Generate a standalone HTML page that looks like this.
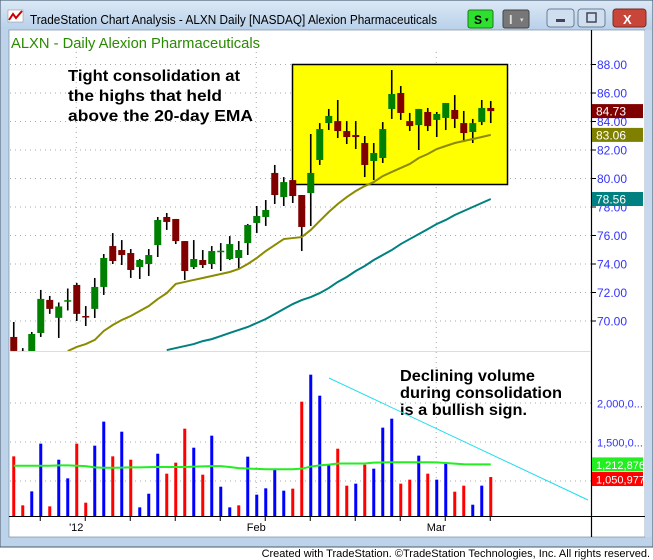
<!DOCTYPE html>
<html><head><meta charset="utf-8">
<style>
html,body{margin:0;padding:0;background:#fff;}
body{width:653px;height:560px;position:relative;overflow:hidden;font-family:"Liberation Sans",sans-serif;}
svg{position:absolute;left:0;top:0;}
</style></head>
<body>
<svg id="chart" width="653" height="560" viewBox="0 0 653 560" xmlns="http://www.w3.org/2000/svg">
  <defs>
    <linearGradient id="tb" x1="0" y1="0" x2="0" y2="1">
      <stop offset="0" stop-color="#dbe8f5"/><stop offset="1" stop-color="#b9d1ea"/>
    </linearGradient>
  </defs>
  <rect x="0" y="0" width="653" height="547" fill="#bcd3ea" stroke="#4a5a6a"/>
  <rect x="1" y="1" width="651" height="28" fill="url(#tb)"/>
  <g>
    <rect x="8" y="10" width="15" height="12" fill="#fff" stroke="#888" stroke-width="0.5"/>
    <polyline points="9,20 13,14 16,18 22,11" fill="none" stroke="#c00" stroke-width="2"/>
  </g>
  <text x="30" y="24" font-size="12.5" textLength="407" lengthAdjust="spacingAndGlyphs" fill="#000">TradeStation Chart Analysis - ALXN Daily [NASDAQ] Alexion Pharmaceuticals</text>
  <g>
    <rect x="468" y="10" width="25" height="18" rx="2" fill="#2ee02e" stroke="#1a7a1a"/>
    <text x="474" y="24" font-size="12" font-weight="bold" fill="#000">S</text>
    <text x="485" y="22" font-size="7" fill="#000">▾</text>
  </g>
  <g>
    <rect x="503" y="10" width="26" height="18" rx="2" fill="#777" stroke="#444"/>
    <text x="509" y="24" font-size="13" font-weight="bold" fill="#ddd">I</text>
    <text x="520" y="22" font-size="7" fill="#ddd">▾</text>
  </g>
  <g>
    <rect x="547" y="9" width="27" height="18" rx="3" fill="#cfdff0" stroke="#6a7f96"/>
    <rect x="556" y="19" width="9" height="3" fill="#445"/>
  </g>
  <g>
    <rect x="578" y="9" width="27" height="18" rx="3" fill="#cfdff0" stroke="#6a7f96"/>
    <rect x="587" y="13" width="9" height="9" fill="none" stroke="#445" stroke-width="1.5"/>
  </g>
  <g>
    <rect x="613" y="9" width="33" height="18" rx="3" fill="#c8453a" stroke="#7a2a22"/>
    <text x="623" y="24" font-size="13" font-weight="bold" fill="#fff">X</text>
  </g>
  <rect x="9" y="30" width="636" height="507" fill="#fff" stroke="#6a7f96" stroke-width="0.6"/>
  <rect x="645" y="30" width="7" height="507" fill="#c5d8ee"/>
  <text x="11" y="48" font-size="15" textLength="249" lengthAdjust="spacingAndGlyphs" fill="#2a8a00">ALXN - Daily  Alexion Pharmaceuticals</text>
  <g id="grid"></g>
  <rect x="292.5" y="64.5" width="215" height="120" fill="#ffff00" stroke="#000" stroke-width="1.5"/>
  <g id="marks"></g>
  <line x1="591.5" y1="30" x2="591.5" y2="537" stroke="#000" stroke-width="1.2"/>
  <line x1="9" y1="516.5" x2="645" y2="516.5" stroke="#000" stroke-width="1"/>
  <line x1="9" y1="351.5" x2="591" y2="351.5" stroke="#ddd" stroke-width="1"/>
  <g id="axes"></g>
  <g font-weight="bold" font-size="16" fill="#000">
    <text x="68" y="81" textLength="172" lengthAdjust="spacingAndGlyphs">Tight consolidation at</text>
    <text x="68" y="101" textLength="154" lengthAdjust="spacingAndGlyphs">the highs that held</text>
    <text x="68" y="121" textLength="185" lengthAdjust="spacingAndGlyphs">above the 20-day EMA</text>
  </g>
  <g font-weight="bold" font-size="16" fill="#000">
    <text x="400" y="381" textLength="135" lengthAdjust="spacingAndGlyphs">Declining volume</text>
    <text x="400" y="398" textLength="162" lengthAdjust="spacingAndGlyphs">during consolidation</text>
    <text x="400" y="415" textLength="127" lengthAdjust="spacingAndGlyphs">is a bullish sign.</text>
  </g>
  <line x1="329" y1="378" x2="588" y2="500" stroke="#22ddee" stroke-width="1"/>
  <text x="650" y="557" font-size="11" text-anchor="end" fill="#000">Created with TradeStation. ©TradeStation Technologies, Inc. All rights reserved.</text>
</svg>
<script>
const opens=[68.88,67.9,67.7,69.16,71.48,70.22,71.42,72.53,70.35,70.85,72.39,75.26,74.98,74.77,73.79,74.00,75.33,77.30,77.16,75.61,73.79,74.28,74.00,74.91,74.35,74.42,75.47,76.88,77.30,80.39,78.70,79.89,78.84,78.98,81.30,83.89,84.03,83.33,83.05,82.49,81.23,81.44,84.88,86.00,84.03,83.75,84.67,84.11,84.25,84.81,83.89,83.26,83.96,84.95];
const highs=[69.93,68.1,69.23,72.18,71.76,71.30,72.28,72.67,71.05,73.02,74.70,76.17,75.68,75.05,74.35,75.05,77.30,77.58,77.16,75.61,75.68,74.98,75.26,75.47,75.96,75.61,76.81,78.07,78.49,80.95,80.10,79.89,78.84,83.12,83.89,84.88,85.51,84.03,84.03,82.98,82.49,83.96,87.61,86.49,84.60,84.88,84.95,84.67,85.30,85.86,84.74,84.18,85.51,85.44];
const lows=[67.7,67.3,67.5,68.88,70.50,68.81,70.74,70.00,69.65,70.21,71.83,74.00,73.93,73.02,72.95,73.16,74.49,76.39,75.40,72.88,73.65,73.72,73.65,73.51,74.28,73.65,74.63,76.17,76.67,78.21,78.07,78.28,74.91,76.67,80.95,83.40,82.84,82.42,82.07,80.10,79.89,81.09,84.18,84.11,83.33,82.00,83.33,82.91,83.40,83.54,82.56,82.49,83.75,83.89];
const closes=[67.9,67.6,69.09,71.55,70.85,71.02,71.46,70.50,70.28,72.39,74.42,74.21,74.63,73.58,74.28,74.63,77.09,76.95,75.61,73.51,74.35,73.93,74.91,74.93,75.40,74.98,76.74,77.37,77.79,78.84,79.75,78.77,76.60,80.39,83.47,84.39,83.33,82.91,82.91,80.95,81.79,83.47,85.93,84.60,83.68,84.88,83.68,84.53,85.30,84.18,83.19,83.89,84.95,84.73];
const ema20=[null,null,null,null,null,null,67.89,68.18,68.38,68.67,69.30,69.72,70.07,70.35,70.70,71.05,71.54,71.96,72.60,72.74,72.88,73.02,73.16,73.30,73.44,73.65,74.00,74.42,74.91,75.33,75.75,75.82,75.89,76.39,77.02,77.65,78.21,78.70,79.12,79.47,79.75,80.17,80.46,80.74,81.02,81.44,81.72,82.07,82.28,82.49,82.63,82.77,82.91,83.06];
const ema50=[null,null,null,null,null,null,null,null,null,null,null,null,null,null,null,null,null,67.96,68.10,68.24,68.38,68.59,68.73,68.94,69.16,69.37,69.58,69.86,70.14,70.49,70.84,71.19,71.47,71.68,71.96,72.31,72.74,73.09,73.51,73.86,74.28,74.63,74.98,75.40,75.75,76.10,76.45,76.81,77.09,77.44,77.72,78.00,78.28,78.56];
const volumes=[1316,688,867,1479,675,1273,1034,1479,722,1453,1761,1316,1632,1273,662,837,1350,1094,1235,1671,1427,1081,1581,927,662,688,1312,825,906,1145,876,902,2017,2363,2094,1209,1414,940,966,1209,1158,1684,1799,966,1017,1325,1094,1017,1235,863,940,696,940,1051];
const volUp=[0,0,1,1,0,1,1,0,0,1,1,0,1,0,1,1,1,0,0,0,1,0,1,1,1,0,1,1,1,1,1,0,0,1,1,1,0,0,1,0,1,1,1,0,0,1,0,1,1,0,0,1,1,0];
const avgVol=[1196,1196,1196,1196,1196,1200,1200,1196,1190,1175,1170,1170,1172,1175,1175,1178,1180,1180,1180,1180,1185,1188,1190,1190,1180,1165,1160,1155,1150,1150,1150,1150,1158,1185,1200,1210,1225,1225,1225,1225,1235,1238,1240,1240,1240,1240,1240,1238,1230,1222,1215,1213,1213,1213];
const priceTicks=[70,72,74,76,78,80,82,84,86,88];
const volTicks=[2000,1500];
const volTickLabels=["2,000,0...","1,500,0..."];
const timeLabels=["'12","Feb","Mar"];
const timeLabelIdx=[7,27,47];
const lastPrice="84.73", lastEma20="83.06", lastEma50="78.56", lastAvgVol="1,212,876", lastVol="1,050,977";

const NS="http://www.w3.org/2000/svg";
const xAt=i=>13.75+9*i;
const yP=p=>64.5+(88-p)*14.25;
const yV=v=>403+(2000-v)/500*39;
function mk(tag,attrs,parent){const e=document.createElementNS(NS,tag);for(const k in attrs)e.setAttribute(k,attrs[k]);parent.appendChild(e);return e;}
const grid=document.getElementById('grid'),marks=document.getElementById('marks'),axes=document.getElementById('axes');

const defs=document.querySelector('defs');
const cp=mk('clipPath',{id:'pclip'},defs);mk('rect',{x:9,y:52,width:582,height:299},cp);
const cv=mk('clipPath',{id:'vclip'},defs);mk('rect',{x:9,y:352,width:582,height:164},cv);

priceTicks.forEach(p=>{
  const l=mk('line',{x1:10,x2:591,y1:yP(p),y2:yP(p),stroke:'#aaa','stroke-dasharray':'1,4'},grid);
  
  
  const t=mk('line',{x1:591,x2:596,y1:yP(p),y2:yP(p),stroke:'#000'},axes);
  
  
  const tx=mk('text',{x:597,y:yP(p)+4.5,'font-size':'12',fill:'#3333ff'},axes);
  tx.textContent=p.toFixed(2);
  
  
});
[1000].concat(volTicks).forEach(v=>{
  const l=mk('line',{x1:10,x2:591,y1:yV(v),y2:yV(v),stroke:'#aaa','stroke-dasharray':'1,4'},grid);
  
  
});
volTicks.forEach((v,k)=>{
  const tx=mk('text',{x:597,y:yV(v)+4.5,'font-size':'11',fill:'#3333ff'},axes);
  tx.textContent=volTickLabels[k];
  
  
});
timeLabelIdx.forEach((i,k)=>{
  const x=xAt(i)-0.5;
  const l=mk('line',{x1:x,x2:x,y1:52,y2:516,stroke:'#aaa','stroke-dasharray':'1,4'},grid);
  
  
  const tx=mk('text',{x:x,y:531,'font-size':'11','text-anchor':'middle',fill:'#000'},axes);
  tx.textContent=timeLabels[k];
  
  
});
for(let i=3;i<56;i+=5){
  const x=xAt(i)-0.5;
  const t=mk('line',{x1:x,x2:x,y1:516,y2:521,stroke:'#000'},axes);
  
  
}

const cg=mk('g',{'clip-path':'url(#pclip)'},marks);
opens.forEach((o,i)=>{
  const c=closes[i],x=xAt(i),up=c>=o;
  const g=mk('g',{},cg);
  
  
  mk('line',{x1:x,x2:x,y1:yP(highs[i]),y2:yP(lows[i]),stroke:'#000','stroke-width':1.6},g);
  const top=yP(Math.max(o,c)),bot=yP(Math.min(o,c));
  mk('rect',{x:x-3.5,y:top,width:7,height:Math.max(1.5,bot-top),fill:up?'#008000':'#800000'},g);
});
function linePath(arr,color,name){
  let d='';arr.forEach((v,i)=>{if(v==null)return;d+=(d?'L':'M')+xAt(i)+','+yP(v);});
  const p=mk('path',{d:d,fill:'none',stroke:color,'stroke-width':2},cg);
  
  
}
linePath(ema20,'#8b8b00','ema-20-line');
linePath(ema50,'#008080','ema-50-line');

const vg=mk('g',{'clip-path':'url(#vclip)'},marks);
volumes.forEach((v,i)=>{
  const y=yV(v);
  const r=mk('rect',{x:xAt(i)-1.5,y:y,width:3,height:516-y,fill:volUp[i]?'#0000ff':'#ff0000'},vg);
  
  
});
let d='';avgVol.forEach((v,i)=>{d+=(i?'L':'M')+xAt(i)+','+yV(v);});
const av=mk('path',{d:d,fill:'none',stroke:'#22ee22','stroke-width':2},vg);



function badge(y,txt,bg,fg,name,fs){
  const g=mk('g',{},axes);
  
  
  mk('rect',{x:592,y:y-7,width:51,height:14,fill:bg},g);
  const t=mk('text',{x:596,y:y+4.5,'font-size':fs,fill:fg},g);t.textContent=txt;
}
badge(yP(parseFloat(lastPrice)),lastPrice,'#800000','#fff','last-price-label','12');
badge(yP(parseFloat(lastEma20)),lastEma20,'#808000','#fff','ema20-value-label','12');
badge(yP(parseFloat(lastEma50)),lastEma50,'#008080','#fff','ema50-value-label','12');
badge(yV(1212.876),lastAvgVol,'#22ee22','#fff','avg-volume-value-label','11');
badge(yV(1050.977)+2,lastVol,'#ff0000','#fff','volume-value-label','11');
</script>
</body></html>
